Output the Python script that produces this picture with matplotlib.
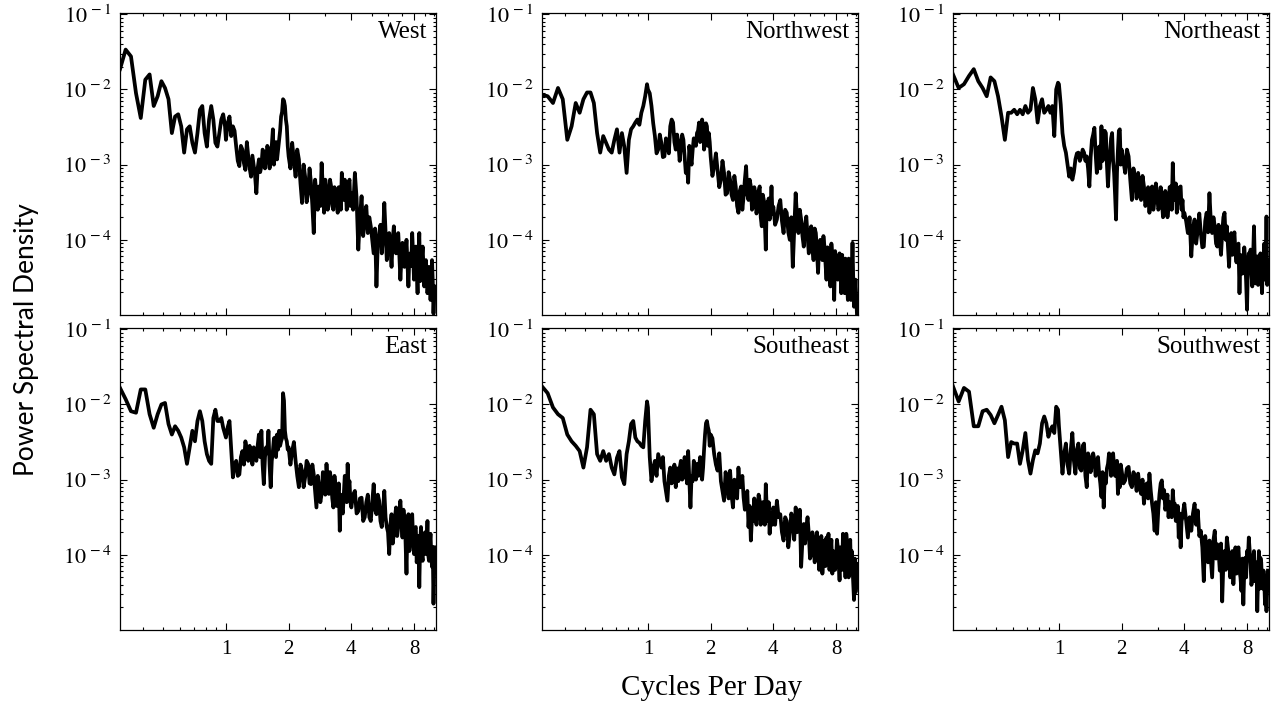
import numpy as np
import matplotlib
matplotlib.use("Agg")
import matplotlib.pyplot as plt
from matplotlib.ticker import FixedLocator, LogLocator, FuncFormatter, NullFormatter

plt.rcParams["font.family"] = ["Liberation Serif", "DejaVu Serif"]
plt.rcParams["mathtext.fontset"] = "stix"

# frequency bins, cycles per day
freq = [0.31, 0.33, 0.35, 0.37, 0.39, 0.41, 0.43, 0.45, 0.47, 0.49, 0.51, 0.53,
        0.55, 0.57, 0.59, 0.61, 0.63, 0.65, 0.67, 0.69, 0.71, 0.73, 0.75, 0.77,
        0.79, 0.81, 0.83, 0.85, 0.87, 0.89, 0.91, 0.93, 0.95, 0.97, 0.99,
        1.00, 1.02, 1.04, 1.06, 1.08, 1.10, 1.12, 1.14, 1.16, 1.18, 1.20, 1.22, 1.24,
        1.26, 1.28, 1.30, 1.32, 1.34, 1.36, 1.38, 1.40, 1.42, 1.44, 1.46, 1.48, 1.50,
        1.52, 1.54, 1.56, 1.58, 1.60, 1.62, 1.64, 1.66, 1.68, 1.70, 1.72, 1.74, 1.76,
        1.78, 1.80, 1.82, 1.84, 1.86, 1.88, 1.90, 1.92, 1.94, 1.96, 1.98,
        2.00, 2.04, 2.08, 2.12, 2.16, 2.20, 2.24, 2.28, 2.32, 2.36, 2.40, 2.44, 2.48,
        2.52, 2.56, 2.60, 2.64, 2.68, 2.72, 2.76, 2.80, 2.84, 2.88, 2.92, 2.96, 3.00,
        3.04, 3.08, 3.12, 3.16, 3.20, 3.24, 3.28, 3.32, 3.36, 3.40, 3.44, 3.48, 3.52,
        3.56, 3.60, 3.64, 3.68, 3.72, 3.76, 3.80, 3.84, 3.88, 3.92, 3.96,
        4.00, 4.08, 4.16, 4.24, 4.32, 4.40, 4.48, 4.56, 4.64, 4.72, 4.80, 4.88, 4.96,
        5.04, 5.12, 5.20, 5.28, 5.36, 5.44, 5.52, 5.60, 5.68, 5.76, 5.84, 5.92, 6.00,
        6.08, 6.16, 6.24, 6.32, 6.40, 6.48, 6.56, 6.64, 6.72, 6.80, 6.88, 6.96, 7.04,
        7.12, 7.20, 7.28, 7.36, 7.44, 7.52, 7.60, 7.68, 7.76, 7.84, 7.92, 8.00, 8.08,
        8.16, 8.24, 8.32, 8.40, 8.48, 8.56, 8.64, 8.72, 8.80, 8.88, 8.96, 9.04, 9.12,
        9.20, 9.28, 9.36, 9.44, 9.52, 9.60, 9.68, 9.76, 9.84, 9.92, 10.00, 10.08]

# log10 of power spectral density
west = [-1.73, -1.47, -1.56, -2.05, -2.38, -1.87, -1.80, -2.22, -2.09, -1.89, -1.98, -2.13,
        -2.58, -2.36, -2.33, -2.49, -2.84, -2.53, -2.49, -2.71, -2.84, -2.58, -2.27, -2.22,
        -2.58, -2.76, -2.40, -2.22, -2.40, -2.71, -2.76, -2.58, -2.40, -2.33, -2.49,
        -2.67, -2.45, -2.36, -2.62, -2.49, -2.55, -2.76, -2.95, -3.02, -2.75, -2.80, -2.98,
        -3.07, -2.70, -2.89, -3.05, -3.16, -2.88, -3.02, -3.15, -3.38, -3.05, -2.93, -3.10,
        -3.02, -2.80, -2.84, -3.05, -2.93, -2.75, -2.80, -3.05, -2.89, -2.75, -2.53, -3.00,
        -2.80, -2.70, -2.93, -2.80, -2.67, -2.55, -2.36, -2.30, -2.13, -2.15, -2.22, -2.40,
        -2.49, -2.75,
        -2.89, -3.05, -2.71, -2.95, -3.16, -2.80, -2.93, -3.25, -3.51, -3.00, -3.16, -3.50,
        -3.38, -3.05, -3.24, -3.55, -3.91, -3.20, -3.38, -3.60, -3.29, -3.55, -2.98, -3.30,
        -3.64, -3.20, -3.33, -3.60, -3.47, -3.20, -3.29, -3.55, -3.60, -3.30, -3.38, -3.45,
        -3.64, -3.30, -3.42, -3.60, -3.11, -3.30, -3.47, -3.20, -3.29, -3.60, -3.47, -3.25,
        -3.20, -3.55,
        -3.38, -3.60, -3.11, -3.45, -4.13, -3.70, -3.42, -3.95, -3.73, -3.55,
        -3.91, -3.70, -3.82, -4.00, -4.18, -3.85, -4.62, -4.05, -3.91, -3.80,
        -4.18, -3.95, -3.51, -3.90, -4.27, -4.05, -3.91, -4.10, -4.36, -4.00,
        -3.82, -4.05, -4.18, -3.95, -3.91, -4.20, -4.53, -4.25, -4.04, -4.15,
        -4.36, -4.20, -4.00, -4.30, -4.62, -4.20, -4.18, -4.35, -3.91, -4.20,
        -4.53, -4.30, -4.09, -4.40, -4.71, -4.20, -3.91, -4.55, -4.36, -4.25,
        -4.09, -4.35, -4.62, -4.40, -4.27, -4.45, -4.71, -4.55, -4.36, -4.50,
        -4.80, -4.60, -4.27, -4.55, -4.98, -4.75, -4.62]

northwest = [-2.07, -2.09, -2.18, -1.98, -2.13, -2.67, -2.49, -2.18, -2.31, -2.13, -2.04, -2.04,
             -2.18, -2.58, -2.84, -2.62, -2.71, -2.80, -2.84, -2.67, -2.53, -2.84, -2.58, -2.76,
             -3.11, -2.67, -2.53, -2.49, -2.44, -2.40, -2.47, -2.31, -2.22, -2.09, -1.93,
             -2.00, -2.05, -2.22, -2.45, -2.62, -2.85, -2.80, -2.60, -2.71, -2.90, -2.89, -2.65,
             -2.71, -2.85, -2.49, -2.40, -2.44, -2.70, -2.80, -2.60, -2.71, -2.95, -2.76, -2.60,
             -2.67, -2.90, -3.11, -3.00, -3.24, -2.75, -2.89, -3.00, -2.80, -2.65, -2.71, -2.75,
             -2.58, -2.55, -2.44, -2.70, -2.67, -2.40, -2.49, -2.80, -2.71, -2.45, -2.49, -2.75,
             -2.58, -2.70,
             -2.89, -3.15, -3.02, -2.85, -3.07, -3.30, -3.20, -2.95, -3.11, -3.40, -3.38, -3.10,
             -3.20, -3.40, -3.47, -3.15, -3.29, -3.55, -3.64, -3.35, -3.29, -3.60, -3.42, -3.20,
             -3.02, -3.40, -3.47, -3.20, -3.29, -3.60, -3.56, -3.30, -3.38, -3.65, -3.56, -3.35,
             -3.29, -3.70, -3.82, -3.40, -3.47, -3.75, -4.13, -3.50, -3.56, -3.45, -3.73, -3.60,
             -3.29, -3.65,
             -3.56, -3.80, -3.73, -3.55, -3.47, -3.75, -3.91, -3.60, -3.64, -3.90,
             -4.00, -3.70, -4.36, -3.85, -3.38, -3.70, -3.91, -3.60, -3.73, -3.95,
             -4.09, -3.80, -3.69, -3.95, -4.18, -3.90, -3.82, -4.10, -4.27, -3.85,
             -3.91, -4.15, -4.44, -4.05, -4.00, -4.20, -4.27, -3.95, -4.09, -4.30,
             -4.53, -4.10, -4.18, -4.35, -4.62, -4.05, -4.22, -4.40, -4.80, -4.15,
             -4.27, -4.45, -4.53, -4.30, -4.18, -4.40, -4.71, -4.20, -4.36, -4.55,
             -4.71, -4.25, -4.44, -4.60, -4.80, -4.25, -4.36, -4.60, -4.80, -4.45,
             -4.04, -4.55, -4.89, -4.70, -4.53, -4.75, -4.98]

northeast = [-1.80, -1.98, -1.93, -1.82, -1.73, -1.89, -1.98, -2.09, -1.84, -1.89, -2.09, -2.36,
             -2.67, -2.31, -2.31, -2.27, -2.33, -2.27, -2.33, -2.22, -2.31, -2.27, -1.98, -2.13,
             -2.44, -2.22, -2.13, -2.31, -2.27, -2.22, -2.31, -2.22, -2.62, -2.00, -1.91,
             -1.93, -2.20, -2.58, -2.75, -2.84, -3.00, -3.16, -3.05, -3.20, -3.10, -2.93, -2.85,
             -2.84, -2.95, -2.89, -2.80, -2.84, -2.95, -2.89, -3.05, -3.29, -2.90, -2.67, -2.60,
             -2.51, -2.85, -3.11, -2.95, -2.76, -3.05, -2.49, -2.95, -2.71, -2.55, -2.58, -3.00,
             -3.29, -3.00, -2.84, -2.65, -2.58, -2.95, -3.11, -3.40, -3.73, -3.10, -2.80, -2.55,
             -2.53, -3.00,
             -2.80, -2.95, -3.11, -2.80, -2.89, -3.20, -3.47, -3.05, -3.20, -3.45, -3.11, -3.30,
             -3.47, -3.15, -3.29, -3.55, -3.47, -3.30, -3.64, -3.35, -3.29, -3.60, -3.47, -3.25,
             -3.38, -3.60, -3.56, -3.30, -3.47, -3.70, -3.64, -3.35, -3.42, -3.70, -3.56, -3.30,
             -3.29, -3.60, -2.98, -3.40, -3.47, -3.25, -3.64, -3.50, -3.47, -3.30, -3.29, -3.60,
             -3.47, -3.70,
             -3.64, -3.75, -3.91, -3.70, -4.22, -3.85, -3.73, -4.05, -3.87, -3.65,
             -3.91, -4.10, -4.09, -3.75, -3.64, -3.90, -3.38, -3.75, -3.91, -3.70,
             -3.82, -4.05, -4.09, -3.80, -4.00, -4.20, -3.91, -3.70, -3.64, -4.00,
             -3.82, -4.10, -4.36, -3.95, -3.91, -4.20, -4.00, -3.90, -4.18, -4.30,
             -4.09, -4.05, -4.71, -4.20, -4.27, -4.45, -4.44, -4.10, -4.27, -4.55,
             -4.93, -4.35, -4.18, -4.40, -4.13, -4.45, -4.62, -4.20, -3.82, -4.30,
             -4.58, -4.40, -4.22, -4.60, -4.44, -4.25, -4.18, -4.45, -4.71, -4.40,
             -4.27, -4.05, -4.53, -4.45, -3.69, -4.60, -4.27]

east = [-1.78, -1.93, -2.09, -2.11, -1.80, -1.80, -2.13, -2.31, -2.13, -2.00, -1.98, -2.26,
        -2.40, -2.29, -2.35, -2.44, -2.57, -2.79, -2.57, -2.35, -2.49, -2.22, -2.09, -2.22,
        -2.49, -2.66, -2.75, -2.79, -2.18, -2.07, -2.22, -2.22, -2.18, -2.31, -2.40,
        -2.44, -2.30, -2.22, -2.60, -2.97, -2.80, -2.75, -2.95, -2.93, -2.70, -2.62, -2.80,
        -2.49, -2.60, -2.75, -2.55, -2.62, -2.80, -2.57, -2.70, -2.75, -2.55, -2.40, -2.70,
        -2.35, -2.80, -3.06, -2.70, -2.57, -2.65, -2.35, -2.80, -3.10, -2.75, -2.62, -2.45,
        -2.44, -2.70, -2.40, -2.60, -2.35, -2.55, -2.49, -2.45, -1.85, -1.95, -2.35, -2.45,
        -2.49, -2.60,
        -2.57, -2.80, -2.62, -2.50, -2.75, -2.95, -3.10, -2.80, -2.88, -3.10, -2.97, -2.75,
        -2.79, -3.05, -3.06, -2.80, -2.93, -3.15, -3.37, -2.95, -3.10, -3.30, -3.19, -2.90,
        -3.02, -3.20, -2.79, -3.05, -3.19, -2.90, -3.02, -3.25, -3.37, -2.95, -3.10, -3.35,
        -3.28, -3.05, -3.68, -3.20, -3.37, -3.45, -3.19, -2.95, -3.02, -3.30, -2.79, -3.10,
        -3.02, -3.30,
        -3.37, -3.20, -3.15, -3.45, -3.42, -3.25, -3.24, -3.55, -3.50, -3.30,
        -3.20, -3.50, -3.55, -3.30, -3.06, -3.40, -3.46, -3.20, -3.28, -3.55,
        -3.63, -3.40, -3.15, -3.50, -3.63, -3.70, -3.99, -3.60, -3.46, -3.85,
        -3.72, -3.50, -3.37, -3.75, -3.63, -3.45, -3.28, -3.55, -3.77, -3.40,
        -3.55, -3.80, -4.25, -3.60, -3.46, -3.95, -3.77, -3.55, -3.46, -3.80,
        -3.99, -3.65, -3.63, -4.10, -3.90, -3.75, -4.43, -3.85, -3.63, -4.00,
        -4.08, -3.80, -3.72, -3.70, -3.99, -3.85, -3.55, -4.00, -4.08, -3.85,
        -3.72, -4.00, -4.16, -3.90, -4.65, -4.20, -3.90]

southeast = [-1.76, -1.85, -2.04, -2.13, -2.18, -2.40, -2.49, -2.55, -2.62, -2.84, -2.57, -2.07,
             -2.13, -2.66, -2.75, -2.62, -2.75, -2.66, -2.84, -2.93, -2.71, -2.62, -2.97, -3.06,
             -2.66, -2.49, -2.26, -2.22, -2.44, -2.49, -2.51, -2.55, -2.57, -2.22, -1.96,
             -2.04, -2.70, -3.02, -2.85, -2.75, -2.95, -2.66, -2.75, -2.84, -2.70, -3.02, -3.15,
             -3.28, -2.95, -2.84, -3.05, -2.97, -2.80, -3.10, -2.85, -3.02, -2.85, -2.75, -3.00,
             -2.97, -2.70, -2.84, -3.05, -2.62, -3.00, -3.37, -2.95, -3.02, -2.75, -2.88, -3.00,
             -2.79, -2.95, -2.84, -2.70, -2.93, -3.00, -2.84, -2.60, -2.40, -2.25, -2.22, -2.30,
             -2.35, -2.55,
             -2.40, -2.45, -2.66, -2.80, -2.88, -2.65, -3.02, -3.15, -3.28, -2.90, -3.06, -3.25,
             -2.88, -3.20, -3.37, -3.00, -3.02, -3.25, -2.84, -3.10, -3.10, -2.95, -3.24, -3.40,
             -3.37, -3.15, -3.63, -3.35, -3.81, -3.50, -3.55, -3.25, -3.46, -3.60, -3.37, -3.20,
             -3.28, -3.60, -3.55, -3.30, -3.37, -3.60, -3.06, -3.40, -3.55, -3.30, -3.72, -3.45,
             -3.46, -3.60,
             -3.37, -3.60, -3.28, -3.50, -3.46, -3.70, -3.81, -3.50, -3.55, -3.90,
             -3.72, -3.45, -3.55, -3.80, -3.37, -3.70, -3.63, -3.40, -4.16, -3.80,
             -3.59, -3.85, -3.63, -3.50, -3.72, -4.05, -3.99, -3.70, -3.90, -4.10,
             -3.81, -3.70, -3.90, -4.20, -3.99, -3.75, -4.25, -4.00, -3.81, -4.15,
             -3.77, -3.95, -3.72, -4.20, -3.99, -3.80, -4.25, -3.95, -3.99, -4.20,
             -4.08, -3.80, -3.90, -4.10, -4.34, -3.90, -3.99, -4.20, -3.72, -4.05,
             -3.94, -4.30, -3.72, -3.85, -4.08, -4.30, -3.99, -3.80, -4.25, -3.95,
             -4.16, -4.35, -4.60, -4.05, -4.50, -4.40, -4.12]

southwest = [-1.76, -1.96, -1.78, -1.83, -2.29, -2.29, -2.09, -2.07, -2.14, -2.25, -2.14, -2.03,
             -2.21, -2.70, -2.50, -2.52, -2.52, -2.79, -2.61, -2.38, -2.74, -2.92, -2.74, -2.61,
             -2.65, -2.52, -2.25, -2.16, -2.25, -2.43, -2.34, -2.29, -2.38, -2.03, -2.07,
             -2.29, -2.60, -2.92, -2.65, -2.52, -2.80, -2.92, -2.60, -2.38, -2.75, -2.92, -2.60,
             -2.52, -2.85, -2.88, -2.55, -2.52, -2.95, -3.10, -2.65, -2.70, -2.90, -2.79, -2.65,
             -2.74, -2.95, -2.83, -2.70, -2.92, -3.05, -3.23, -2.90, -3.37, -2.95, -3.05, -2.85,
             -2.79, -2.65, -2.70, -2.95, -2.76, -2.65, -2.83, -2.95, -2.92, -2.75, -3.19, -2.90,
             -3.10, -2.80,
             -2.88, -3.05, -3.01, -2.85, -2.83, -3.05, -3.10, -2.90, -2.96, -3.15, -2.92, -3.10,
             -3.19, -3.00, -3.32, -3.10, -3.05, -3.25, -2.92, -3.15, -3.32, -3.45, -3.68, -3.30,
             -3.72, -3.40, -3.19, -3.05, -3.01, -3.25, -3.14, -3.40, -3.32, -3.20, -3.50, -3.30,
             -3.32, -3.50, -3.14, -3.35, -3.32, -3.55, -3.50, -3.35, -3.77, -3.45, -3.90, -3.55,
             -3.50, -3.40,
             -3.32, -3.55, -3.77, -3.50, -3.68, -3.45, -3.32, -3.60, -3.41, -3.75,
             -3.68, -3.90, -4.35, -3.75, -3.95, -4.10, -3.81, -4.05, -4.30, -3.80,
             -3.68, -4.05, -3.86, -3.95, -4.21, -3.85, -4.62, -4.10, -3.95, -4.20,
             -3.77, -3.90, -4.04, -4.30, -4.21, -3.95, -4.39, -4.10, -3.90, -4.25,
             -3.95, -3.90, -4.21, -4.30, -4.48, -4.05, -4.66, -4.20, -4.04, -4.30,
             -3.95, -4.05, -3.77, -3.95, -4.13, -4.40, -4.30, -4.05, -3.95, -4.35,
             -4.17, -4.10, -4.75, -4.30, -3.95, -4.45, -4.04, -4.10, -4.39, -4.45,
             -4.21, -4.35, -4.66, -4.40, -4.75, -4.45, -4.21]

names = ["West", "Northwest", "Northeast", "East", "Southeast", "Southwest"]
series = [west, northwest, northeast, east, southeast, southwest]
for s in series:
    assert len(s) == len(freq), (len(s), len(freq))

W, H = 1272, 705
fig = plt.figure(figsize=(W / 100, H / 100), dpi=100)
lefts = [120, 542, 953]
tops = [13, 328]
aw, ah = 316, 302

for i, (name, vals) in enumerate(zip(names, series)):
    r, c = divmod(i, 3)
    ax = fig.add_axes([lefts[c] / W, 1 - (tops[r] + ah) / H, aw / W, ah / H])
    ax.loglog(freq, 10 ** np.array(vals), color="black", lw=2.7)
    ax.set_xlim(0.31, 10.2)
    ax.set_ylim(1e-5, 0.104)

    ax.xaxis.set_major_locator(FixedLocator([1, 2, 4, 8]))
    ax.xaxis.set_major_formatter(FuncFormatter(lambda v, p: "%d" % round(v)))
    ax.xaxis.set_minor_locator(LogLocator(base=10, subs=np.arange(1, 10), numticks=20))
    ax.xaxis.set_minor_formatter(NullFormatter())
    ax.yaxis.set_major_locator(FixedLocator([1e-4, 1e-3, 1e-2, 1e-1]))
    ax.yaxis.set_major_formatter(FuncFormatter(lambda v, p: r"$10^{\,%d}$" % round(np.log10(v))))
    ax.yaxis.set_minor_locator(LogLocator(base=10, subs=np.arange(2, 10), numticks=20))
    ax.yaxis.set_minor_formatter(NullFormatter())

    ax.tick_params(which="both", direction="in", top=True, right=True, width=0.8)
    ax.tick_params(which="major", length=5)
    ax.tick_params(which="minor", length=2.5)
    ax.tick_params(axis="y", pad=6, labelsize=16)
    ax.tick_params(axis="x", pad=7, labelsize=15)
    if r == 0:
        ax.tick_params(axis="x", labelbottom=False)
    for sp in ax.spines.values():
        sp.set_linewidth(0.9)

    ax.text(0.972, 0.937, name, transform=ax.transAxes, ha="right", va="center", fontsize=18)

fig.text(0.021, 0.518, "Power Spectral Density", rotation=90, ha="center", va="center",
         fontsize=19, family=["Lato", "DejaVu Sans"])
fig.text(712 / W, 0.024, "Cycles Per Day", ha="center", va="center", fontsize=21)

fig.savefig("out.png", dpi=100)
